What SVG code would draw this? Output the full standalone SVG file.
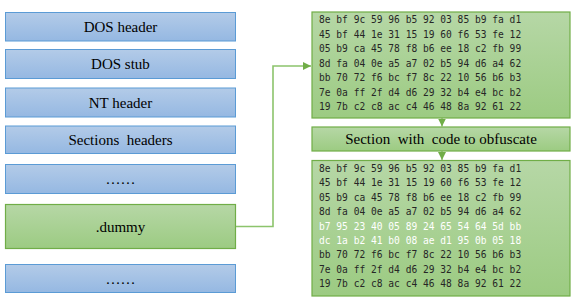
<svg xmlns="http://www.w3.org/2000/svg" width="580" height="300" viewBox="0 0 580 300">
<defs>
<linearGradient id="gb" x1="0" y1="0" x2="0" y2="1"><stop offset="0" stop-color="#b3cbe8"/><stop offset="1" stop-color="#95b8e2"/></linearGradient>
<linearGradient id="gg" x1="0" y1="0" x2="0" y2="1"><stop offset="0" stop-color="#b6d7a6"/><stop offset="1" stop-color="#9ccb82"/></linearGradient>
<marker id="ar2" viewBox="0 0 10 10" refX="10" refY="5" markerWidth="8" markerHeight="8" orient="auto" markerUnits="userSpaceOnUse"><path d="M0,0 L10,5 L0,10 z" fill="#70ad47"/></marker>
</defs>
<style>
.bl{fill:url(#gb);stroke:#5b9bd5;stroke-width:1}
.gr{fill:url(#gg);stroke:#70ad47;stroke-width:1.2}
.lb{font-family:'Liberation Serif','Times New Roman',serif;font-size:15px;fill:#000;text-anchor:middle}
.hx{font-family:'DejaVu Sans Mono',monospace;font-size:9.6px;fill:#262626}
.hw{fill:#ffffff}
.cn{fill:none;stroke:#8cc46c;stroke-width:1.6}
</style>
<g id="dos-header"><rect class="bl" x="5.5" y="12.5" width="230" height="28.5"/><text class="lb" x="120.5" y="31.5">DOS header</text></g>
<g id="dos-stub"><rect class="bl" x="5.5" y="49.5" width="230" height="29"/><text class="lb" x="120.5" y="69">DOS stub</text></g>
<g id="nt-header"><rect class="bl" x="5.5" y="88" width="230" height="29"/><text class="lb" x="120.5" y="107.5">NT header</text></g>
<g id="sections-headers"><rect class="bl" x="5.5" y="126" width="230" height="27.5"/><text class="lb" x="120.5" y="144.5" xml:space="preserve">Sections  headers</text></g>
<g id="dots1"><rect class="bl" x="5.5" y="164.5" width="230" height="29"/><text class="lb" x="120.5" y="184">……</text></g>
<g id="dummy"><rect class="gr" x="5.5" y="204.5" width="230" height="44"/><text class="lb" x="120.5" y="231.5">.dummy</text></g>
<g id="dots2"><rect class="bl" x="5.5" y="264.5" width="230" height="28"/><text class="lb" x="120.5" y="284">……</text></g>
<g id="connectors">
<polyline class="cn" points="236,226.5 273,226.5 273,66 311,66" marker-end="url(#ar2)"/>
<line x1="442" y1="118" x2="442" y2="126.5" stroke="#70ad47" stroke-width="1" marker-end="url(#ar2)"/>
<line x1="442" y1="151" x2="442" y2="160" stroke="#70ad47" stroke-width="1" marker-end="url(#ar2)"/>
</g>
<g id="hex-top"><rect class="gr" x="312" y="12" width="258" height="106"/>
<g class="hx" xml:space="preserve">
<text x="319" y="23">8e bf 9c 59 96 b5 92 03 85 b9 fa d1</text>
<text x="319" y="37.5">45 bf 44 1e 31 15 19 60 f6 53 fe 12</text>
<text x="319" y="52">05 b9 ca 45 78 f8 b6 ee 18 c2 fb 99</text>
<text x="319" y="66.5">8d fa 04 0e a5 a7 02 b5 94 d6 a4 62</text>
<text x="319" y="81">bb 70 72 f6 bc f7 8c 22 10 56 b6 b3</text>
<text x="319" y="95.5">7e 0a ff 2f d4 d6 29 32 b4 e4 bc b2</text>
<text x="319" y="110">19 7b c2 c8 ac c4 46 48 8a 92 61 22</text>
</g></g>
<g id="section-code"><rect class="gr" x="312" y="127" width="258" height="24"/><text class="lb" x="441" y="144" xml:space="preserve">Section  with  code to obfuscate</text></g>
<g id="hex-bottom"><rect class="gr" x="312" y="160.5" width="258" height="135.5"/>
<g class="hx" xml:space="preserve">
<text x="319" y="172">8e bf 9c 59 96 b5 92 03 85 b9 fa d1</text>
<text x="319" y="186.4">45 bf 44 1e 31 15 19 60 f6 53 fe 12</text>
<text x="319" y="200.8">05 b9 ca 45 78 f8 b6 ee 18 c2 fb 99</text>
<text x="319" y="215.2">8d fa 04 0e a5 a7 02 b5 94 d6 a4 62</text>
<text class="hw" x="319" y="229.6">b7 95 23 40 05 89 24 65 54 64 5d bb</text>
<text class="hw" x="319" y="244">dc 1a b2 41 b0 08 ae d1 95 0b 05 18</text>
<text x="319" y="258.4">bb 70 72 f6 bc f7 8c 22 10 56 b6 b3</text>
<text x="319" y="272.8">7e 0a ff 2f d4 d6 29 32 b4 e4 bc b2</text>
<text x="319" y="287.2">19 7b c2 c8 ac c4 46 48 8a 92 61 22</text>
</g></g>
</svg>
